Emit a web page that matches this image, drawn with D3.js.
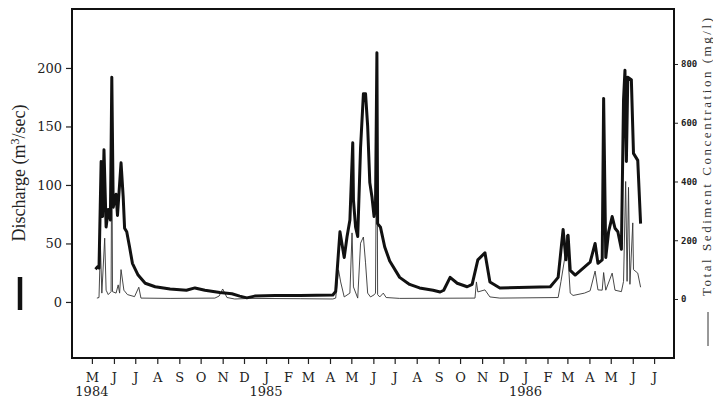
<!DOCTYPE html>
<html>
<head>
<meta charset="utf-8">
<script src="https://cdn.jsdelivr.net/npm/d3@7/dist/d3.min.js"></script>
<style>
  body { margin: 0; background: #fff; }
  svg { display: block; }
</style>
</head>
<body>
<svg id="chart" width="713" height="399"></svg>
<script>
// discharge (thick line, left axis)
var qDates = ["1984-05-06","1984-05-09","1984-05-11","1984-05-14","1984-05-16","1984-05-18","1984-05-21","1984-05-24",
  "1984-05-27","1984-05-29","1984-05-31","1984-06-04","1984-06-06","1984-06-11","1984-06-14","1984-06-16","1984-06-19",
  "1984-06-23","1984-06-27","1984-07-05","1984-07-15","1984-07-29","1984-08-19","1984-09-11","1984-09-23","1984-10-07",
  "1984-10-28","1984-11-14","1984-11-25","1984-12-05","1984-12-16","1985-01-14","1985-02-18","1985-04-05","1985-04-09",
  "1985-04-15","1985-04-21","1985-04-25","1985-04-29","1985-05-03","1985-05-04","1985-05-07","1985-05-10","1985-05-14",
  "1985-05-18","1985-05-21","1985-05-24","1985-05-27","1985-05-30","1985-06-02","1985-06-04","1985-06-06","1985-06-07",
  "1985-06-11","1985-06-17","1985-06-24","1985-07-08","1985-07-22","1985-08-05","1985-08-24","1985-09-03","1985-09-08",
  "1985-09-17","1985-09-27","1985-10-11","1985-10-18","1985-10-26","1985-11-05","1985-11-12","1985-11-26","1986-02-05",
  "1986-02-16","1986-02-23","1986-02-27","1986-03-02","1986-03-05","1986-03-12","1986-04-02","1986-04-09","1986-04-13",
  "1986-04-19","1986-04-21","1986-04-24","1986-04-28","1986-05-03","1986-05-07","1986-05-11","1986-05-16","1986-05-19",
  "1986-05-21","1986-05-23","1986-05-25","1986-05-30","1986-06-02","1986-06-08","1986-06-12"];
var qValues = [28,30,29,120,73,130,64,79,
  70,192,81,92,74,119,90,63,60,
  47,33,23,16,13,11,10,12,10,
  8,7,5,3.5,5,5.5,5.5,6,9,
  60,38,56,70,136,87,64,56,132,
  178,178,150,102,90,73,80,213,67,
  64,47,35,21,15,12,10,8.5,10,
  21,16,13,15,36,42,17,12,13,
  21,62,36,57,27,23,34,50,33,
  36,174,38,60,73,63,60,45,173,
  198,120,192,190,127,121,67];

// total sediment concentration (thin line, right axis)
var cDates = ["1984-05-08","1984-05-11","1984-05-13","1984-05-15","1984-05-19","1984-05-21","1984-05-24","1984-05-28",
  "1984-05-29","1984-05-30","1984-06-04","1984-06-07","1984-06-09","1984-06-11","1984-06-15","1984-06-20","1984-06-30",
  "1984-07-06","1984-07-09","1984-08-19","1984-10-21","1984-10-27","1984-11-01","1984-11-07","1984-11-18","1984-12-09",
  "1985-02-18","1985-04-05","1985-04-09","1985-04-13","1985-04-16","1985-04-21","1985-04-29","1985-05-02","1985-05-04",
  "1985-05-10","1985-05-14","1985-05-18","1985-05-21","1985-05-24","1985-05-28","1985-06-02","1985-06-04","1985-06-06",
  "1985-06-07","1985-06-10","1985-06-15","1985-06-19","1985-07-08","1985-10-22","1985-10-24","1985-10-26","1985-11-05",
  "1985-11-12","1985-11-26","1986-02-16","1986-02-20","1986-02-26","1986-02-28","1986-03-05","1986-03-09","1986-03-25",
  "1986-04-02","1986-04-09","1986-04-13","1986-04-19","1986-04-21","1986-04-24","1986-05-03","1986-05-07","1986-05-16",
  "1986-05-19","1986-05-22","1986-05-24","1986-05-26","1986-05-28","1986-06-01","1986-06-02","1986-06-08","1986-06-12"];
var cValues = [3,5,180,20,207,30,15,25,
  600,25,20,48,20,100,30,15,8,
  40,3,2,3,10,34,5,0,2,
  1,0,3,99,58,7,20,225,41,
  3,190,211,123,20,7,14,20,760,
  15,7,20,5,2,3,58,24,31,
  7,3,5,60,150,218,20,12,20,
  28,95,31,30,90,30,88,30,25,
  60,400,60,380,50,259,100,88,40];

var qTicks = [0, 50, 100, 150, 200];
var cTicks = [0, 200, 400, 600, 800];
var monthLabels = ["M","J","J","A","S","O","N","D","J","F","M","A","M","J",
  "J","A","S","O","N","D","J","F","M","A","M","J","J"];
var yearLabels = ["1984", "1985", "1986"];
var yearAt = ["1984-05-01", "1985-01-01", "1986-01-01"];

var parse = d3.utcParse("%Y-%m-%d");
var serif = "'DejaVu Serif', serif";

var svg = d3.select("#chart"),
  plotL = 72, plotR = 674, plotT = 9, plotB = 358;

var x = d3.scaleUtc()
  .domain([parse("1984-04-03"), parse("1986-07-29")])
  .range([plotL, plotR]);
var yQ = d3.scaleLinear().domain([-47.9, 250.4]).range([plotB, plotT]);
var yC = d3.scaleLinear().domain([-200.9, 987.2]).range([plotB, plotT]);

var qData = qDates.map(function(d, i) { return {date: parse(d), v: qValues[i]}; });
var cData = cDates.map(function(d, i) { return {date: parse(d), v: cValues[i]}; });

// month ticks
var months = d3.utcMonth.range(parse("1984-05-01"), parse("1986-07-02"));

var xAxis = d3.axisBottom(x)
  .tickValues(months)
  .tickSize(6)
  .tickPadding(9)
  .tickFormat(function(d, i) { return monthLabels[i]; });

var gx = svg.append("g")
  .attr("transform", "translate(0," + plotB + ")")
  .call(xAxis);
gx.select(".domain").remove();
gx.selectAll("line").attr("stroke", "#222").attr("stroke-width", 1.2);
gx.selectAll("text")
  .attr("fill", "#222")
  .style("font-family", serif)
  .style("font-size", "13px");

svg.append("g").selectAll("text")
  .data(yearLabels)
  .enter().append("text")
  .attr("x", function(d, i) { return x(parse(yearAt[i])); })
  .attr("y", 396)
  .attr("text-anchor", "middle")
  .attr("fill", "#222")
  .style("font-family", serif)
  .style("font-size", "13px")
  .text(function(d) { return d; });

var gl = svg.append("g")
  .attr("transform", "translate(" + plotL + ",0)")
  .call(d3.axisLeft(yQ).tickValues(qTicks).tickSize(6).tickPadding(4));
gl.select(".domain").remove();
gl.selectAll("line").attr("stroke", "#222").attr("stroke-width", 1.2);
gl.selectAll("text")
  .attr("fill", "#222")
  .style("font-family", serif)
  .style("font-size", "13px");

var gr = svg.append("g")
  .attr("transform", "translate(" + plotR + ",0)")
  .call(d3.axisRight(yC).tickValues(cTicks).tickSize(4).tickPadding(3));
gr.select(".domain").remove();
gr.selectAll("line").attr("stroke", "#222");
gr.selectAll("text")
  .attr("fill", "#222")
  .style("font-family", "'DejaVu Sans Mono', monospace")
  .style("font-size", "9px")
  .style("font-weight", "bold");

// frame
svg.append("rect")
  .attr("x", plotL).attr("y", plotT)
  .attr("width", plotR - plotL).attr("height", plotB - plotT)
  .attr("fill", "none")
  .attr("stroke", "#111")
  .attr("stroke-width", 2);

var lineQ = d3.line()
  .x(function(d) { return x(d.date); })
  .y(function(d) { return yQ(d.v); });
var lineC = d3.line()
  .x(function(d) { return x(d.date); })
  .y(function(d) { return yC(d.v); });

svg.append("path")
  .datum(cData)
  .attr("d", lineC)
  .attr("fill", "none")
  .attr("stroke", "#333")
  .attr("stroke-width", 0.9)
  .attr("stroke-linejoin", "round");

svg.append("path")
  .datum(qData)
  .attr("d", lineQ)
  .attr("fill", "none")
  .attr("stroke", "#111")
  .attr("stroke-width", 3)
  .attr("stroke-linejoin", "round");

// axis titles with their line keys
var lt = svg.append("text")
  .attr("transform", "translate(25,173) rotate(-90)")
  .attr("text-anchor", "middle")
  .attr("fill", "#222")
  .style("font-family", "'Liberation Serif', serif")
  .style("font-size", "18px");
lt.append("tspan").text("Discharge (m");
lt.append("tspan").attr("dy", -6).style("font-size", "12px").text("3");
lt.append("tspan").attr("dy", 6).text("/sec)");

svg.append("line")
  .attr("x1", 20).attr("x2", 20)
  .attr("y1", 277).attr("y2", 310)
  .attr("stroke", "#111")
  .attr("stroke-width", 4.5);

svg.append("text")
  .attr("transform", "translate(711,157) rotate(-90)")
  .attr("text-anchor", "middle")
  .attr("fill", "#333")
  .attr("textLength", 278)
  .attr("lengthAdjust", "spacing")
  .style("font-family", "'Liberation Serif', serif")
  .style("font-size", "13px")
  .text("Total Sediment Concentration (mg/l)");

svg.append("line")
  .attr("x1", 708).attr("x2", 708)
  .attr("y1", 312).attr("y2", 346)
  .attr("stroke", "#333")
  .attr("stroke-width", 1);
</script>
</body>
</html>
